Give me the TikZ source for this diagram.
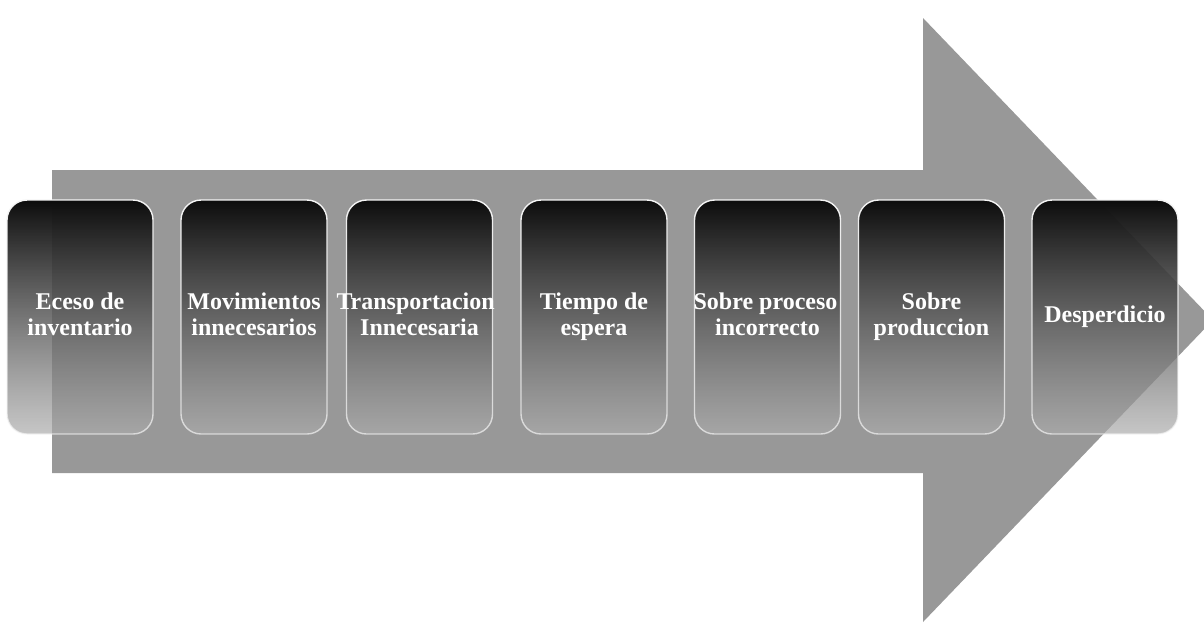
\documentclass[tikz,border=0pt]{standalone}
\usepackage{fontspec}
\setmainfont{Liberation Serif}
\usetikzlibrary{fadings}
\definecolor{arrowgray}{RGB}{152,152,152}
\definecolor{boxbottom}{RGB}{172,172,172}
\definecolor{boxtop}{RGB}{12,12,12}
\tikzfading[name=boxfade, top color=transparent!0, bottom color=transparent!32]
\tikzset{
  stagebox/.style={rectangle, rounded corners=20pt, text width=146pt, minimum height=234pt,
    inner sep=0pt, top color=boxtop, bottom color=boxbottom, path fading=boxfade,
    draw=white!92!gray, line width=1.4pt, text=white, align=flush center,
    font=\fontsize{24}{26}\selectfont\bfseries},
  bigarrow/.style={fill=arrowgray, draw=none}
}
\begin{document}
\begin{tikzpicture}[x=1pt,y=-1pt]
\useasboundingbox (0,0) rectangle (1204,624);
\fill[white] (0,0) rectangle (1204,624);
% big arrow
\fill[bigarrow] (52,170) -- (923,170) -- (923,18) -- (1213,320) -- (923,622) -- (923,473) -- (52,473) -- cycle;
% stages
\node[stagebox] (b1) at (80,317) {\strut Eceso de\\\strut inventario};
\node[stagebox] (b2) at (254,317) {\strut Movimientos\\\strut innecesarios};
\node[stagebox] (b3) at (419.5,317) {\hspace*{-10pt}\strut Transportacion\hspace*{-10pt}\\\strut Innecesaria};
\node[stagebox] (b4) at (594,317) {\strut Tiempo de\\\strut espera};
\node[stagebox] (b5) at (767.5,317) {\hspace*{-4pt}\strut Sobre proceso\hspace*{-4pt}\\\strut incorrecto};
\node[stagebox] (b6) at (931.5,317) {\strut Sobre\\\strut produccion};
\node[stagebox] (b7) at (1105,317) {\strut Desperdicio};
\end{tikzpicture}
\end{document}
